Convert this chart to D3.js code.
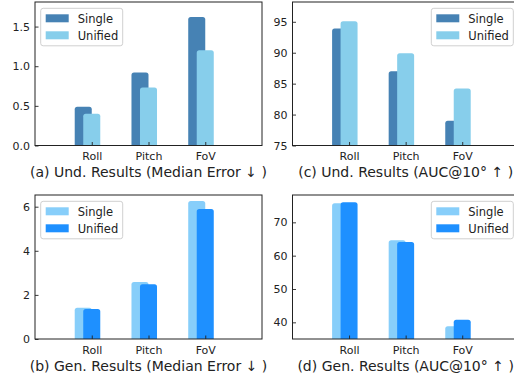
<!doctype html>
<html>
<head>
<meta charset="utf-8">
<style>
  body { margin: 0; background: #fff; }
  svg text { font-family: "DejaVu Sans", sans-serif; fill: #222; }
</style>
</head>
<body>
<div class="chart"></div>
<script src="https://d3js.org/d3.v7.min.js"></script>
<script>
  // categories and values
  let categories = ["Roll", "Pitch", "FoV"];
  let seriesNames = ["Single", "Unified"];

  let undMedianSingle = [0.49, 0.92, 1.62];
  let undMedianUnified = [0.40, 0.73, 1.20];
  let undAucSingle = [93.9, 87.0, 79.0];
  let undAucUnified = [95.1, 89.9, 84.2];
  let genMedianSingle = [1.42, 2.58, 6.26];
  let genMedianUnified = [1.36, 2.48, 5.90];
  let genAucSingle = [75.7, 64.6, 38.8];
  let genAucUnified = [76.0, 64.1, 40.8];

  let undMedianTicks = [0, 0.5, 1.0, 1.5];
  let undAucTicks = [75, 80, 85, 90, 95];
  let genMedianTicks = [0, 2, 4, 6];
  let genAucTicks = [40, 50, 60, 70];

  let width = 514, height = 374;

  let svg = d3.select(".chart")
    .append("svg")
    .attr("width", width)
    .attr("height", height);

  // rounded-top bar
  function barPath(x0, x1, yTop, yBot, r) {
    r = Math.min(r, (x1 - x0) / 2, Math.max(0, yBot - yTop));
    return "M" + x0 + "," + yBot +
      "L" + x0 + "," + (yTop + r) +
      "Q" + x0 + "," + yTop + " " + (x0 + r) + "," + yTop +
      "L" + (x1 - r) + "," + yTop +
      "Q" + x1 + "," + yTop + " " + x1 + "," + (yTop + r) +
      "L" + x1 + "," + yBot + "Z";
  }

  function drawPanel(p, idx) {
    let g = svg.append("g");
    let scaleX = d3.scaleLinear().domain([-1, 3]).range([p.left, p.right]);
    let scaleY = d3.scaleLinear().domain(p.domain).range([p.bottom, p.top]);

    let clipId = "clip" + idx;
    g.append("clipPath").attr("id", clipId)
      .append("rect")
      .attr("x", p.left).attr("y", p.top)
      .attr("width", p.right - p.left).attr("height", p.bottom - p.top);

    let bw = 0.3;
    let bars = g.append("g").attr("clip-path", "url(#" + clipId + ")");
    let series = [p.single, p.unified];
    series.forEach((vals, s) => {
      let off = s === 0 ? -bw / 2 : 0;
      bars.selectAll(null)
        .data(vals)
        .enter()
        .append("path")
        .attr("d", (d, i) => barPath(
          scaleX(i + off - bw / 2), scaleX(i + off + bw / 2),
          scaleY(d), p.bottom + 2, 2.5))
        .style("fill", p.colors[s]);
    });

    // axes with inward ticks
    let xAxis = d3.axisBottom(scaleX)
      .tickValues([0, 1, 2])
      .tickFormat(i => categories[i])
      .tickSizeInner(-3.5).tickSizeOuter(0).tickPadding(7);
    let gx = g.append("g")
      .attr("transform", "translate(0," + p.bottom + ")")
      .call(xAxis);

    let yAxis = d3.axisLeft(scaleY)
      .tickValues(p.ticks)
      .tickFormat(p.fmt)
      .tickSizeInner(-3.5).tickSizeOuter(0).tickPadding(5);
    let gy = g.append("g")
      .attr("transform", "translate(" + p.left + ",0)")
      .call(yAxis);

    [gx, gy].forEach(a => {
      a.select(".domain").remove();
      a.selectAll("line").style("stroke", "#222").style("stroke-width", 0.9);
      a.selectAll("text").style("font-size", "11px")
        .style("font-family", "DejaVu Sans, sans-serif").style("fill", "#222");
    });

    // frame
    g.append("rect")
      .attr("x", p.left).attr("y", p.top)
      .attr("width", p.right - p.left).attr("height", p.bottom - p.top)
      .style("fill", "none").style("stroke", "#222").style("stroke-width", 1);

    // caption
    g.append("text")
      .attr("x", (p.left + p.right) / 2)
      .attr("y", p.bottom + 31.5)
      .attr("text-anchor", "middle")
      .style("font-size", "14px")
      .text(p.caption);

    // legend
    let lx = p.legendRight ? p.right - 87.5 : p.left + 5.7;
    let ly = p.top + 6.3;
    let leg = g.append("g").attr("transform", "translate(" + lx + "," + ly + ")");
    leg.append("rect")
      .attr("width", 82).attr("height", 37.5)
      .attr("rx", 2.5)
      .style("fill", "white").style("fill-opacity", 0.8)
      .style("stroke", "#d0d0d0").style("stroke-width", 1);
    seriesNames.forEach((name, s) => {
      leg.append("rect")
        .attr("x", 5).attr("y", 6 + s * 17)
        .attr("width", 23).attr("height", 8)
        .style("fill", p.colors[s]);
      leg.append("text")
        .attr("x", 37).attr("y", 14.5 + s * 17)
        .style("font-size", "11.5px")
        .text(name);
    });
  }

  let undColors = ["#4682b4", "#87ceeb"];
  let genColors = ["#87cefa", "#1e90ff"];

  let panels = [
    { left: 35, right: 262, top: 2, bottom: 145.5, domain: [0, 1.81],
      single: undMedianSingle, unified: undMedianUnified, ticks: undMedianTicks,
      fmt: d3.format(".1f"), colors: undColors, legendRight: false,
      caption: "(a) Und. Results (Median Error \u2193 )" },
    { left: 292.5, right: 518.8, top: 2, bottom: 145.5, domain: [75, 98.2],
      single: undAucSingle, unified: undAucUnified, ticks: undAucTicks,
      fmt: d3.format("d"), colors: undColors, legendRight: true,
      caption: "(c) Und. Results (AUC@10\u00b0 \u2191 )" },
    { left: 35, right: 262, top: 195, bottom: 339, domain: [0, 6.53],
      single: genMedianSingle, unified: genMedianUnified, ticks: genMedianTicks,
      fmt: d3.format("d"), colors: genColors, legendRight: false,
      caption: "(b) Gen. Results (Median Error \u2193 )" },
    { left: 292.5, right: 518.8, top: 195, bottom: 339, domain: [35, 78.2],
      single: genAucSingle, unified: genAucUnified, ticks: genAucTicks,
      fmt: d3.format("d"), colors: genColors, legendRight: true,
      caption: "(d) Gen. Results (AUC@10\u00b0 \u2191 )" }
  ];

  panels.forEach((p, i) => drawPanel(p, i));
</script>
</body>
</html>
